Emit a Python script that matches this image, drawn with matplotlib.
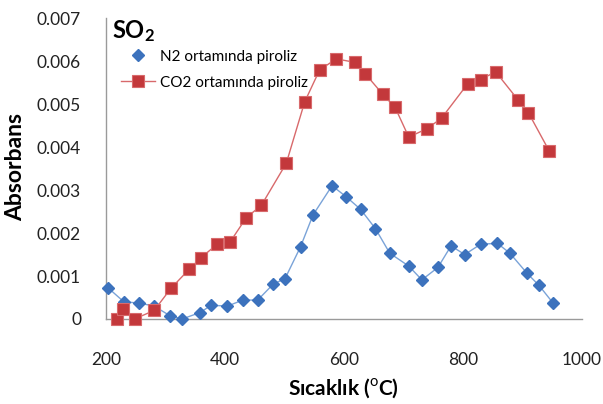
import matplotlib
matplotlib.use("Agg")
import matplotlib.pyplot as plt
from matplotlib.lines import Line2D

# N2 ortaminda piroliz
n2_temp = [203, 230, 256, 281, 307, 328, 358, 377, 404, 430, 455, 481, 501, 527,
           548, 580, 604, 628, 653, 677, 709, 731, 758, 780, 803, 830, 858, 879,
           908, 928, 951]
n2_abs = [0.00073, 0.00040, 0.00037, 0.00030, 0.00008, 0.0, 0.00015, 0.00032,
          0.00030, 0.00044, 0.00044, 0.00081, 0.00094, 0.00168, 0.00242, 0.00310,
          0.00284, 0.00255, 0.00210, 0.00153, 0.00123, 0.00091, 0.00120, 0.00170,
          0.00150, 0.00174, 0.00176, 0.00153, 0.00106, 0.00078, 0.00038]

# CO2 ortaminda piroliz
co2_temp = [218, 229, 248, 281, 309, 340, 360, 387, 409, 436, 461, 503, 534, 559,
            587, 618, 636, 665, 686, 709, 740, 764, 808, 830, 855, 893, 910, 945]
co2_abs = [0.0, 0.00024, 0.0, 0.00020, 0.00071, 0.00116, 0.00143, 0.00174,
           0.00180, 0.00236, 0.00264, 0.00362, 0.00505, 0.00579, 0.00605, 0.00597,
           0.00570, 0.00523, 0.00492, 0.00423, 0.00443, 0.00467, 0.00547, 0.00557,
           0.00575, 0.00509, 0.00480, 0.00391]

x_ticks = [200, 400, 600, 800, 1000]
y_ticks = [0, 0.001, 0.002, 0.003, 0.004, 0.005, 0.006, 0.007]
y_labels = ["0", "0.001", "0.002", "0.003", "0.004", "0.005", "0.006", "0.007"]

plt.rcParams["font.family"] = ["Lato", "DejaVu Sans"]
plt.rcParams["mathtext.fontset"] = "custom"
plt.rcParams["mathtext.rm"] = "Lato"
plt.rcParams["mathtext.bf"] = "Lato:bold"

fig = plt.figure(figsize=(6.03, 4.04), dpi=100)
ax = fig.add_axes([0.1758, 0.2104, 0.7892, 0.745])

n2_col, n2_line = "#3c72bd", "#7aa3d8"
co2_col, co2_line = "#c3383b", "#d8696b"

ax.plot(n2_temp, n2_abs, color=n2_line, lw=1.0, marker="D", ms=6,
        mfc=n2_col, mec=n2_col, zorder=3, clip_on=False)
ax.plot(co2_temp, co2_abs, color=co2_line, lw=1.0, marker="s", ms=8.5,
        mfc=co2_col, mec="#d86a6c", mew=0.8, zorder=3, clip_on=False)

ax.set_xlim(200, 1000)
ax.set_ylim(0, 0.007)
ax.set_xticks(x_ticks)
ax.set_yticks(y_ticks)
ax.set_yticklabels(y_labels)
ax.tick_params(length=0, labelsize=12.5, colors="#222222")
ax.tick_params(axis="y", pad=18)
ax.tick_params(axis="x", pad=24)
for s in ("top", "right"):
    ax.spines[s].set_visible(False)
for s in ("left", "bottom"):
    ax.spines[s].set_color("#9a9a9a")
    ax.spines[s].set_linewidth(1.0)

ax.set_xlabel("Sıcaklık ($^{\\mathrm{o}}$C)", fontsize=15, fontweight="bold")
ax.set_ylabel("Absorbans", fontsize=16.5, fontweight="bold")
ax.xaxis.set_label_coords(0.5, -0.19)
ax.yaxis.set_label_coords(-0.168, 0.505)

ax.text(0.012, 1.0, r"$\mathbf{SO_2}$", transform=ax.transAxes, fontsize=17,
        va="top", ha="left")

handles = [
    Line2D([], [], ls="none", marker="D", ms=6, mfc=n2_col, mec=n2_col),
    Line2D([], [], color=co2_line, lw=1.0, marker="s", ms=8.5, mfc=co2_col,
           mec="#d86a6c", mew=0.8),
]
ax.legend(handles, ["N2 ortamında piroliz", "CO2 ortamında piroliz"],
          loc="upper left", bbox_to_anchor=(0.01, 0.93), frameon=False,
          fontsize=11, handlelength=2.2, handletextpad=0.3, labelspacing=0.78,
          borderpad=0.2)

fig.savefig("out.png", dpi=100)
